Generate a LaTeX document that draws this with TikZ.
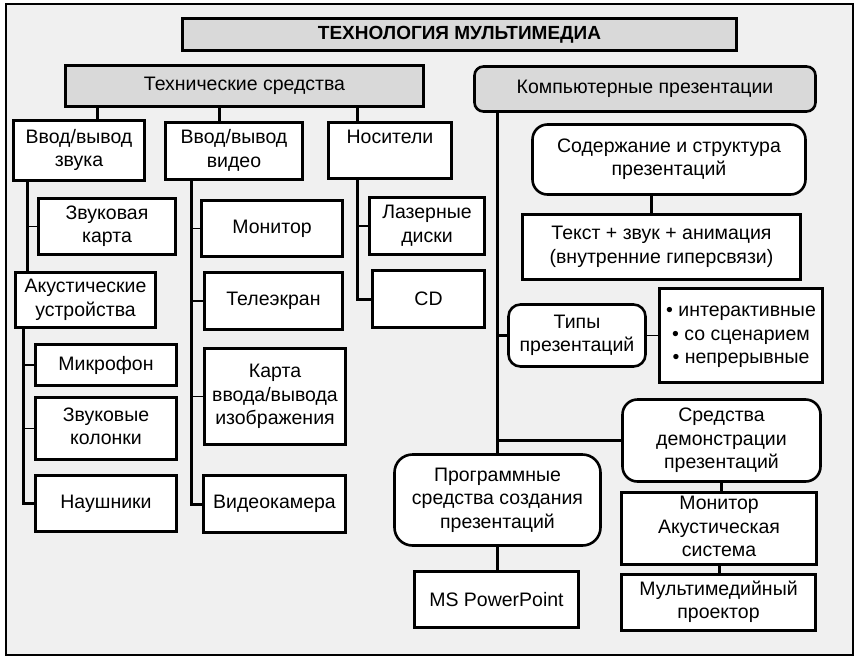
\documentclass[tikz,border=0pt]{standalone}
\usepackage{fontspec}
\setmainfont{Liberation Sans}
\definecolor{bgfill}{HTML}{F0F0F0}
\definecolor{grayfill}{HTML}{D9D9D9}
\newcommand{\ctext}[1]{\begin{tabular}{@{}c@{}}#1\end{tabular}}
\tikzset{
  box/.style={draw=black, line width=2.6pt, fill=white, align=center, inner sep=0pt,
    font=\fontsize{19.5}{23.5}\selectfont},
  rbox/.style={box, rounded corners=15pt},
  gbox/.style={box, fill=grayfill},
  conn/.style={line width=3pt},
  tick/.style={line width=1.6pt},
}
\begin{document}
\begin{tikzpicture}[x=1pt,y=-1pt]
\useasboundingbox (0,0) rectangle (860,662);
\draw[line width=2pt, fill=bgfill] (6,4) rectangle (853,655);

% top level
\node[gbox, minimum width=554, minimum height=32, font=\fontsize{19}{22}\selectfont\bfseries] (title) at (459.5,34.5) {ТЕХНОЛОГИЯ МУЛЬТИМЕДИА};
\node[gbox, minimum width=358, minimum height=41] (tech) at (244.5,86) {Технические средства};
\node[gbox, rounded corners=9pt, minimum width=341, minimum height=45] (komp) at (645,89) {Компьютерные презентации};

% technical branches
\node[box, minimum width=131, minimum height=60] (zvio) at (79,150.5) {\ctext{Ввод/вывод\\звука}};
\node[box, minimum width=137, minimum height=57] (vidio) at (234,151) {\ctext{Ввод/вывод\\видео}};
\node[box, minimum width=123, minimum height=56] (nos) at (390,150.5) {\ctext{Носители\\\strut}};

\node[box, minimum width=137, minimum height=56] (karta) at (107,226.5) {\ctext{Звуковая\\карта}};
\node[box, minimum width=140, minimum height=55] (akust) at (85.5,300) {\ctext{Акустические\\устройства}};
\node[box, minimum width=141, minimum height=41] (mikro) at (106,365) {Микрофон};
\node[box, minimum width=141, minimum height=62] (kolon) at (106,428.5) {\ctext{Звуковые\\колонки}};
\node[box, minimum width=141, minimum height=56] (naush) at (106,503.5) {Наушники};

\node[box, minimum width=141, minimum height=56] (monit) at (272,228.5) {Монитор};
\node[box, minimum width=138, minimum height=57] (tele) at (273.5,301) {Телеэкран};
\node[box, minimum width=141, minimum height=96] (kvv) at (275,396.5) {\ctext{Карта\\ввода/вывода\\изображения}};
\node[box, minimum width=142, minimum height=57] (vkam) at (274.5,504) {Видеокамера};

\node[box, minimum width=115, minimum height=57] (lazer) at (427,226) {\ctext{Лазерные\\диски}};
\node[box, minimum width=112, minimum height=57] (cd) at (428.5,299) {CD};

% presentations
\node[rbox, minimum width=273, minimum height=70] (sod) at (669,159.5) {\ctext{Содержание и структура\\презентаций}};
\node[box, minimum width=278, minimum height=65] (tekst) at (661.5,247) {\ctext{Текст + звук + анимация\\(внутренние гиперсвязи)}};
\node[rbox, rounded corners=12pt, minimum width=137, minimum height=62] (tipy) at (577,335.5) {\ctext{Типы\\презентаций}};
\node[box, minimum width=163, minimum height=94] (bul) at (741,335.5) {\ctext{• интерактивные\\• со сценарием\\• непрерывные}};
\node[rbox, minimum width=198, minimum height=82] (sdem) at (721.5,440.5) {\ctext{Средства\\демонстрации\\презентаций}};
\node[box, minimum width=195, minimum height=72] (mas) at (719,528.5) {\ctext{Монитор\\Акустическая\\система}};
\node[box, minimum width=194, minimum height=56] (proj) at (718.5,602.5) {\ctext{Мультимедийный\\проектор}};
\node[rbox, rounded corners=18pt, minimum width=206, minimum height=91] (prog) at (497.5,500) {\ctext{Программные\\средства создания\\презентаций}};
\node[box, minimum width=164, minimum height=56] (ppt) at (496.5,599.5) {MS PowerPoint};

% spine coordinates
\coordinate (s1) at (27,0);
\coordinate (s2) at (23,0);
\coordinate (s3) at (191,0);
\coordinate (s4) at (357,0);
\coordinate (s5) at (497,0);

% connectors from technical means
\draw[conn] ([xshift=18pt]zvio.north) -- ([xshift=18pt]zvio.north |- tech.south);
\draw[conn] ([xshift=-15pt]vidio.north) -- ([xshift=-15pt]vidio.north |- tech.south);
\draw[conn] ([xshift=-33pt]nos.north) -- ([xshift=-33pt]nos.north |- tech.south);

% sound
\draw[conn] (zvio.south -| s1) -- (akust.north -| s1);
\draw[tick] (karta.west -| s1) -- (karta.west);
\draw[conn] (akust.south -| s2) |- (naush.west);
\draw[tick] (mikro.west -| s2) -- (mikro.west);
\draw[tick] (kolon.west -| s2) -- (kolon.west);

% video
\draw[conn] (vidio.south -| s3) |- (vkam.west);
\draw[tick] (monit.west -| s3) -- (monit.west);
\draw[tick] (tele.west -| s3) -- (tele.west);
\draw[tick] (kvv.west -| s3) -- (kvv.west);

% media
\draw[conn] (nos.south -| s4) |- (cd.west);
\draw[tick] (lazer.west -| s4) -- (lazer.west);

% presentations
\draw[conn] (komp.south -| s5) -- (prog.north -| s5);
\draw[conn] (tipy.west -| s5) -- (tipy.west);
\draw[conn] (sdem.west -| s5) -- (sdem.west);
\draw[conn] ([xshift=-10pt]tekst.north) -- ([xshift=-10pt]tekst.north |- sod.south);
\draw[tick] (tipy.east) -- (tipy.east -| bul.west);
\draw[conn] (sdem.south) -- (sdem.south |- mas.north);
\draw[conn] (mas.south) -- (mas.south |- proj.north);
\draw[conn] (prog.south) -- (prog.south |- ppt.north);
\end{tikzpicture}
\end{document}
